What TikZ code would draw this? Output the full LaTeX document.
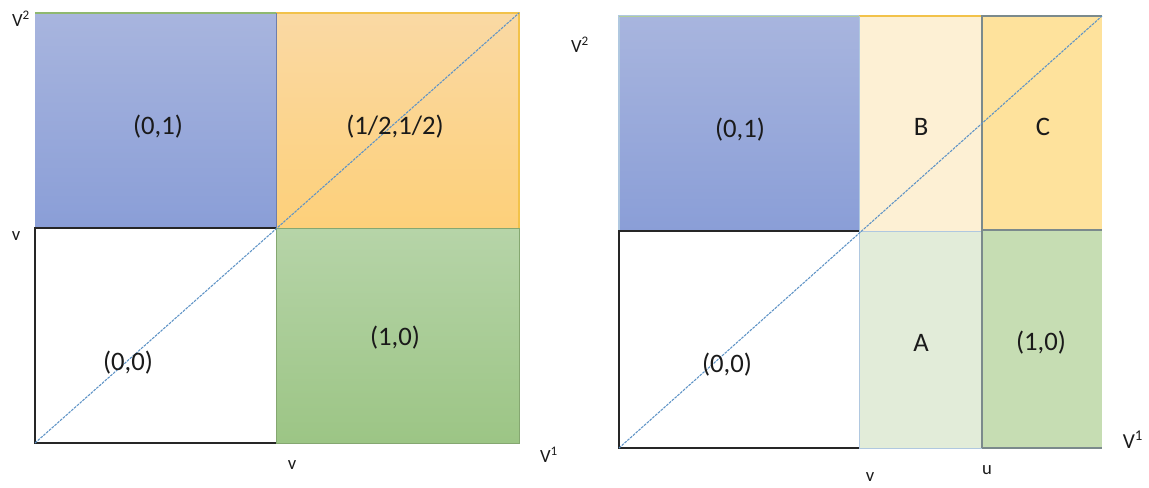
\documentclass[tikz,border=0pt]{standalone}
\usepackage{fontspec}
\setmainfont{Carlito}
\definecolor{blueT}{HTML}{A8B5DE}
\definecolor{blueB}{HTML}{8A9ED7}
\definecolor{orT}{HTML}{FAD9A4}
\definecolor{orB}{HTML}{FDD07A}
\definecolor{grT}{HTML}{B6D4A8}
\definecolor{grB}{HTML}{9CC585}
\definecolor{lorange}{HTML}{FDF0D4}
\definecolor{morange}{HTML}{FEE29C}
\definecolor{lgreen}{HTML}{E2ECD9}
\definecolor{mgreen}{HTML}{C6DDB3}
\definecolor{diagblue}{HTML}{5E93C6}
\definecolor{edgegrey}{HTML}{7B8A8C}
\definecolor{edgeblue}{HTML}{B0C8E0}
\definecolor{edgegreen}{HTML}{8FB870}
\definecolor{edgeyellow}{HTML}{F2C24A}
\definecolor{txt}{HTML}{1A1A1A}
\begin{document}
\begin{tikzpicture}[x=0.75pt,y=-0.75pt,
  lbl/.style={font=\fontsize{20}{24}\selectfont, text=txt, inner sep=0pt},
  ax/.style={font=\fontsize{14}{16}\selectfont, text=txt, inner sep=0pt},
  diag/.style={draw=diagblue, dash pattern=on 2pt off 0.8pt, line width=0.8pt},
  frame/.style={draw=black!85, line width=1.3pt}]
\useasboundingbox (0,0) rectangle (1149,487);
% ---------- left panel ----------
\shade[top color=blueT, bottom color=blueB] (35,13) rectangle (276,228);
\shade[top color=orT, bottom color=orB] (276,13) rectangle (519,228);
\shade[top color=grT, bottom color=grB] (276,228) rectangle (519,443);
\draw[draw=edgegreen, line width=0.8pt] (35,13) -- (276,13);
\draw[draw=edgeyellow, line width=0.8pt] (276,13) -- (519,13) -- (519,228);
\draw[draw=blueB!80!black, line width=0.6pt] (276,13) -- (276,228);
\draw[draw=grB!85!black, line width=0.6pt] (276,228) rectangle (519,443);
\draw[frame] (276,228) -- (35,228) -- (35,443) -- (276,443);
\coordinate (L0) at (35,443);
\coordinate (L1) at (519,13);
\draw[diag] (L0) -- (L1);
\node[lbl] (l01) at (158,127) {(0,1)};
\node[lbl] (lhh) at (395,127) {(1/2,1/2)};
\node[lbl] (l00) at (128,363) {(0,0)};
\node[lbl] (l10) at (395,338) {(1,0)};
\node[ax] (lv2) at (21,19) {V\textsuperscript{2}};
\node[ax] (lvy) at (16,236) {v};
\node[ax] (lvx) at (292,465) {v};
\node[ax] (lv1) at (549,455) {V\textsuperscript{1}};
% ---------- right panel ----------
\shade[top color=blueT, bottom color=blueB] (619,16) rectangle (859,231);
\fill[lorange] (859,16) rectangle (982,231);
\fill[morange] (982,16) rectangle (1102,230);
\fill[lgreen] (859,231) rectangle (982,448);
\fill[mgreen] (982,230) rectangle (1102,448);
\draw[draw=edgeblue, line width=0.8pt] (619,231) -- (619,16) -- (859,16);
\draw[draw=edgegreen!70, line width=0.6pt] (619,16) -- (859,16);
\draw[draw=edgeyellow, line width=1pt] (859,16) -- (982,16);
\draw[draw=edgeblue, line width=0.7pt] (859,16) -- (859,448) -- (982,448);
\draw[draw=edgeblue, line width=0.7pt] (859,231) -- (982,231);
\draw[draw=edgegrey, line width=0.9pt] (982,448) -- (982,16) -- (1102,16);
\draw[draw=edgegrey, line width=0.9pt] (982,230) -- (1102,230);
\draw[draw=edgegrey, line width=0.9pt] (982,448) -- (1102,448);
\draw[frame] (859,231) -- (619,231) -- (619,448) -- (859,448);
\coordinate (R0) at (619,448);
\coordinate (R1) at (1102,16);
\draw[diag] (R0) -- (R1);
\node[lbl] (r01) at (740,130) {(0,1)};
\node[lbl] (rB) at (921,127) {B};
\node[lbl] (rC) at (1043,127) {C};
\node[lbl] (rA) at (921,343) {A};
\node[lbl] (r10) at (1041,343) {(1,0)};
\node[lbl] (r00) at (727,365) {(0,0)};
\node[ax] (rv2) at (580,45) {V\textsuperscript{2}};
\node[ax, font=\fontsize{16}{18}\selectfont] (rv1) at (1133,440) {V\textsuperscript{1}};
\node[ax] (rvx) at (870,477) {v};
\node[ax] (ru) at (987,470) {u};
\end{tikzpicture}
\end{document}
